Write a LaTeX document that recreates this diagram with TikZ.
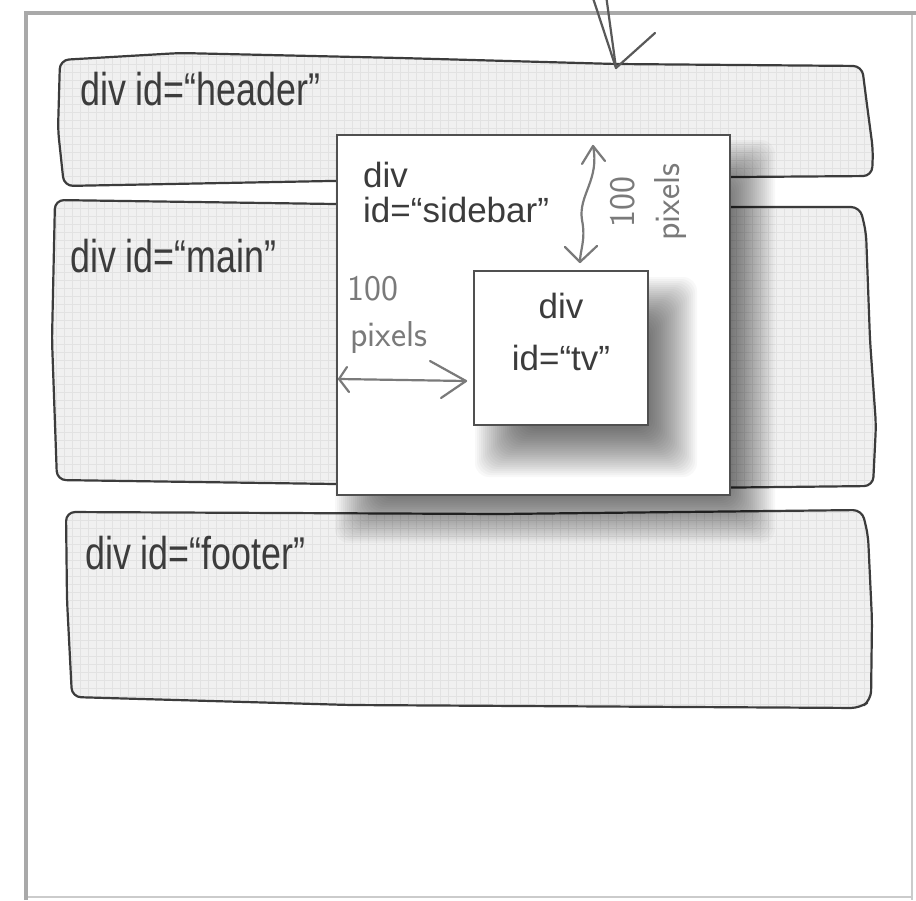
\documentclass[tikz,border=0pt]{standalone}
\usepackage{fontspec}
\setmainfont{Liberation Sans}
\newfontfamily\bandfont[FakeStretch=0.78]{Liberation Sans}
\definecolor{ink}{HTML}{3C3C3C}
\definecolor{pencil}{HTML}{7A7A7A}
\definecolor{framegray}{HTML}{A9A9A9}
\definecolor{paper}{HTML}{F0F0F0}
\definecolor{gridc}{HTML}{E2E2E2}
\newcommand\softshadow[4]{%
  \foreach \k in {0,...,24}{%
    \fill[black, opacity=0.028, rounded corners=14] ({#1-25+2*\k},{#2-25+2*\k}) rectangle ({#3+25-2*\k},{#4+25-2*\k});}}
\def\hdrpath{(60,60) -- (180,53) -- (400,58) -- (616,64) -- (862,66) -- (867,105) -- (873,150) -- (872,176) -- (600,178) -- (330,181) -- (64,186) -- (58,130) -- cycle}
\def\mainpath{(55,200) -- (335,204) -- (730,207) -- (860,207) -- (866,232) -- (870,340) -- (876,425) -- (873,486) -- (600,489) -- (335,484) -- (57,480) -- (52,340) -- cycle}
\def\footpath{(66,512) -- (500,514) -- (862,510) -- (868,535) -- (872,620) -- (871,700) -- (860,708) -- (350,705) -- (72,697) -- (67,600) -- cycle}
\begin{document}
\begin{tikzpicture}[x=1pt,y=-1pt,
  bandline/.style={draw=ink, line width=2.2, rounded corners=9, line join=round},
  boxstyle/.style={draw=ink!90, line width=2.5, fill=white, inner sep=0},
  bandlabel/.style={font=\bandfont\fontsize{46}{50}\selectfont, text=ink, inner sep=0, anchor=base west},
  sidelabel/.style={font=\fontsize{35}{38}\selectfont, text=ink, inner sep=0, anchor=base west},
  tvlabel/.style={font=\fontsize{35}{38}\selectfont, text=ink, inner sep=0, anchor=base},
  hand/.style={font=\sffamily\fontsize{36}{40}\selectfont, text=pencil, inner sep=0},
  pen/.style={draw=pencil, line width=2.2, line cap=round, line join=round}]
\useasboundingbox (0,0) rectangle (916,900);
\fill[white] (0,0) rectangle (916,900);
% page frame
\draw[framegray!60, line width=2] (912,13) -- (912,900);
\draw[framegray!60, line width=2] (26,897) -- (912,897);
\draw[framegray, line width=3.5] (26,900) -- (26,13) -- (916,13);
% bands
\foreach \p in {\hdrpath,\mainpath,\footpath}{
  \fill[paper, rounded corners=9] \p;
  \begin{scope}
    \clip[rounded corners=9] \p;
    \draw[gridc, line width=0.5, step=8pt] (0,0) grid (916,900);
  \end{scope}
  \draw[bandline] \p;
}
% top arrow
\coordinate (ttip) at (616,68);
\draw[ink!85, line width=2.2, line cap=round] (606,-5) -- (ttip);
\draw[ink!85, line width=2.2, line cap=round, line join=round] (592,-5) -- (ttip) -- (655,33);
% sidebar
\softshadow{360}{165}{750}{518}
\node[boxstyle, minimum width=393pt, minimum height=360pt] (sidebar) at (533.5,315) {};
% tv
\softshadow{500}{302}{672}{452}
\node[boxstyle, minimum width=174pt, minimum height=154pt] (tv) at (561,348) {};
% labels
\node[bandlabel] (hdrlabel) at (80,105) {div id=“header”};
\node[bandlabel] (mainlabel) at (70,272) {div id=“main”};
\node[bandlabel] (footlabel) at (85,569) {div id=“footer”};
\node[sidelabel] (sidediv) at (363,187) {div};
\node[sidelabel] (sideid) at (363,222) {id=“sidebar”};
\node[tvlabel] (tvdiv) at (561,318) {div};
\node[tvlabel] (tvid) at (561,370) {id=“tv”};
% measurements
\coordinate (vtop) at (593,146);
\coordinate (vbot) at (580,262);
\draw[pen] (vtop) .. controls (600,180) and (578,195) .. (582,220) .. controls (586,240) and (580,250) .. (vbot);
\draw[pen] (582,164) -- (vtop) -- (605,161);
\draw[pen] (565,247) -- (vbot) -- (597,246);
\coordinate (hl) at (339,379);
\coordinate (hr) at (466,381);
\draw[pen] (hl) -- (hr);
\draw[pen] (430,361) -- (hr) -- (441,398);
\draw[pen] (347,367) -- (hl) -- (349,392);
\node[hand, anchor=base west] (h100) at (347,300) {100};
\node[hand, anchor=base west] (hpix) at (350,346) {pixels};
\node[hand, rotate=90] (v100) at (623,202) {100};
\node[hand, rotate=90] (vpix) at (671,202) {pixels};
\end{tikzpicture}
\end{document}
